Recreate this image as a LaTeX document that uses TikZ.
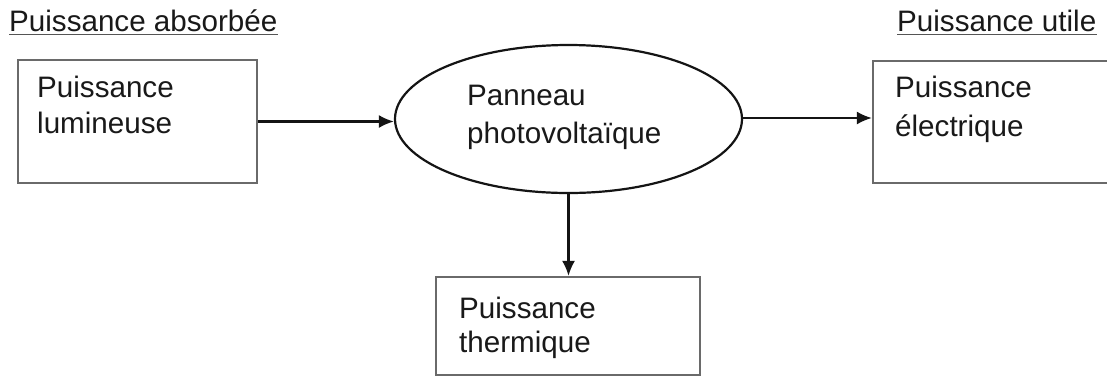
\documentclass[tikz,border=0pt]{standalone}
\usepackage{fontspec}
\setmainfont{Liberation Sans}
\usetikzlibrary{arrows.meta,shapes.geometric}
\definecolor{boxgray}{HTML}{6A6A6A}
\definecolor{inkline}{HTML}{141414}
\begin{document}
\begin{tikzpicture}[x=1pt,y=-1pt,
  box/.style={draw=boxgray,line width=2.2pt,rectangle,inner sep=0pt},
  oval/.style={draw=inkline,line width=2.2pt,ellipse,inner sep=0pt},
  lbl/.style={anchor=base west,inner sep=0pt,font=\fontsize{29.6}{36}\selectfont,text=black!90},
  flow/.style={draw=inkline,line width=2.2pt,-{Latex[length=15pt,width=13pt]}},
  uline/.style={draw=boxgray!80!black,line width=1.8pt}]
\useasboundingbox (0,0) rectangle (1107,376);
\clip (0,0) rectangle (1107,376);
\fill[white] (0,0) rectangle (1107,376);

% headings
\node[lbl] (tin) at (9,31) {Puissance absorbée};
\node[lbl] (tout) at (897,31) {Puissance utile};
\draw[uline] ([yshift=-3.5pt]tin.base west) -- ([yshift=-3.5pt]tin.base east);
\draw[uline] ([yshift=-3.5pt]tout.base west) -- ([yshift=-3.5pt]tout.base east);

% blocks
\node[box,minimum width=239pt,minimum height=123pt] (lbox) at (137.5,121.5) {};
\node[oval,minimum width=347pt,minimum height=148pt] (pv) at (568.5,119) {};
\node[box,minimum width=257pt,minimum height=122pt] (rbox) at (1001.5,122) {};
\node[box,minimum width=264pt,minimum height=98pt] (bbox) at (568,326) {};

% block texts
\node[lbl] (l1) at (37,97) {Puissance};
\node[lbl] (l2) at (37,133) {lumineuse};
\node[lbl] (p1) at (467,105) {Panneau};
\node[lbl] (p2) at (467,143) {photovoltaïque};
\node[lbl] (r1) at (895,97) {Puissance};
\node[lbl] (r2) at (895,136) {électrique};
\node[lbl] (b1) at (459,318) {Puissance};
\node[lbl] (b2) at (459,352) {thermique};

% power flows
\draw[flow] (lbox.east) -- (lbox.east -| pv.west);
\draw[flow] ([yshift=1pt]pv.east) -- ([yshift=1pt]pv.east -| rbox.west);
\draw[flow] (pv.south) -- (pv.south |- bbox.north);
\end{tikzpicture}
\end{document}
